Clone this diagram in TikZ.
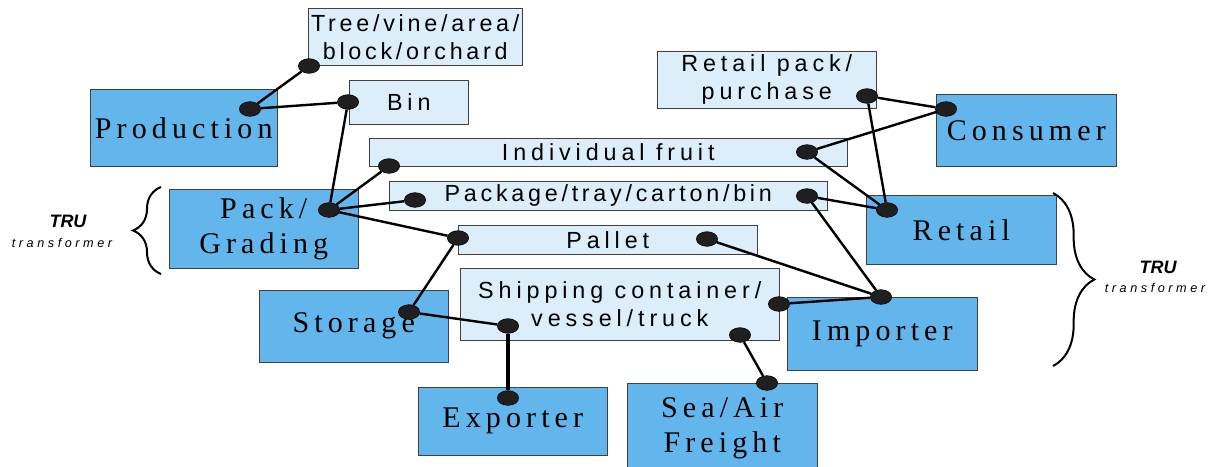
\documentclass[tikz,border=0pt]{standalone}
\usepackage{fontspec}
\setmainfont{Liberation Serif}
\setsansfont{Liberation Sans}
\newfontfamily\stagefont[LetterSpace=17]{Liberation Serif}
\newfontfamily\itemfont[LetterSpace=21]{Liberation Sans}
\newfontfamily\tightfont[LetterSpace=16]{Liberation Sans}
\newfontfamily\trufont[LetterSpace=28]{Liberation Sans}
\usetikzlibrary{shapes.geometric, decorations.pathreplacing}
\definecolor{stageblue}{RGB}{99,182,236}
\definecolor{itemblue}{RGB}{221,238,251}
\tikzstyle{link} = [line width=1.8pt, black]
\tikzstyle{bracket} = [line width=1.5pt, decorate]

\begin{document}
\begin{tikzpicture}[x=0.75pt, y=-0.75pt,
		stage/.style={
			rectangle,
			draw=black!75,
			fill=stageblue,
			anchor=north west,
			inner sep=0pt,
			align=center,
			font=\stagefont\fontsize{22.5}{26.25}\selectfont},
		item/.style={
			rectangle,
			draw=black!75,
			fill=itemblue,
			anchor=north west,
			inner sep=0pt,
			align=center,
			font=\itemfont\fontsize{17.5}{21}\selectfont},
		dot/.style={
			ellipse,
			draw=black,
			fill=black!88,
			inner sep=0pt,
			minimum width=16pt,
			minimum height=11pt}]

		\useasboundingbox (0,0) rectangle (1213,467);

		% stages
		\node (prod) [stage, minimum width=140.25pt, minimum height=57.75pt] at (90,89) {Production};
		\node (packgr) [stage, minimum width=141.75pt, minimum height=59.25pt] at (169,189) {Pack/\\Grading};
		\node (storage) [stage, minimum width=141.75pt, minimum height=54pt] at (259,290) {Storage};
		\node (exporter) [stage, minimum width=141.75pt, minimum height=51pt] at (418,387) {Exporter};
		\node (freight) [stage, minimum width=142.5pt, minimum height=67.5pt] at (627,383) {Sea/Air\\Freight};
		\node (importer) [stage, minimum width=142.5pt, minimum height=54.75pt] at (787,297) {Importer};
		\node (retail) [stage, minimum width=142.5pt, minimum height=51.75pt] at (866,195) {Retail};
		\node (consumer) [stage, minimum width=135pt, minimum height=54pt] at (936,94) {Consumer};

		% traceable units
		\node (tree) [item, minimum width=160.5pt, minimum height=42.75pt, font=\tightfont\fontsize{17.5}{21}\selectfont] at (308,8) {Tree/vine/area/\\block/orchard};
		\node (bin) [item, minimum width=89.25pt, minimum height=33pt] at (349,80) {Bin};
		\node (retpack) [item, minimum width=164.25pt, minimum height=42.75pt] at (657,51) {Retail pack/\\purchase};
		\node (fruit) [item, minimum width=358.5pt, minimum height=21pt] at (369,138) {Individual fruit};
		\node (package) [item, minimum width=328.5pt, minimum height=21.75pt, font=\tightfont\fontsize{17.5}{21}\selectfont] at (389,181) {Package/tray/carton/bin};
		\node (pallet) [item, minimum width=224.25pt, minimum height=21.75pt] at (458,225) {Pallet};
		\node (shipping) [item, minimum width=239.25pt, minimum height=54pt] at (460,268) {Shipping container/\\vessel/truck};

		% dots
		\node (dtree) [dot] at (309,66) {};
		\node (dprod) [dot] at (250,109) {};
		\node (dbin) [dot] at (348,102) {};
		\node (dpack) [dot] at (329,210) {};
		\node (dfruit) [dot] at (389,166) {};
		\node (dpkg) [dot] at (415,200) {};
		\node (dpallet) [dot] at (458,238) {};
		\node (dstore) [dot] at (409,312) {};
		\node (dship) [dot] at (508,326) {};
		\node (dexp) [dot] at (508,398) {};
		\node (dshipsea) [dot] at (740,335) {};
		\node (dsea) [dot] at (767,383) {};
		\node (dshipimp) [dot] at (779,304) {};
		\node (dimp) [dot] at (881,297) {};
		\node (dpalletimp) [dot] at (707,239) {};
		\node (dpkgimp) [dot] at (807,196) {};
		\node (dretail) [dot] at (887,210) {};
		\node (dfruitcon) [dot] at (807,152) {};
		\node (dcons) [dot] at (946,109) {};
		\node (dretpack) [dot] at (867,96) {};

		\draw[link] (dtree) -- (dprod);
		\draw[link] (dprod) -- (dbin);
		\draw[link] (dbin) -- (dpack);
		\draw[link] (dpack) -- (dfruit);
		\draw[link] (dpack) -- (dpkg);
		\draw[link] (dpack) -- (dpallet);
		\draw[link] (dpallet) -- (dstore);
		\draw[link] (dstore) -- (dship);
		\draw[link, line width=2.8pt] (dship) -- (dexp);
		\draw[link] (dshipsea) -- (dsea);
		\draw[link] (dshipimp) -- (dimp);
		\draw[link] (dpalletimp) -- (dimp);
		\draw[link] (dpkgimp) -- (dimp);
		\draw[link] (dpkgimp) -- (dretail);
		\draw[link] (dfruitcon) -- (dretail);
		\draw[link] (dfruitcon) -- (dcons);
		\draw[link] (dretpack) -- (dcons);
		\draw[link] (dretpack) -- (dretail);

		% transformer brackets
		\draw[bracket, decoration={brace, amplitude=21pt}] (161,274) -- (161,187);
		\draw[bracket, decoration={brace, amplitude=31pt}] (1053,193) -- (1053,366);
		\node (trul) at (68,221) {\sffamily\bfseries\itshape\fontsize{13.5}{16}\selectfont TRU};
		\node (tranl) at (62,243) {\trufont\itshape\fontsize{9.5}{11}\selectfont transformer};
		\node (trur) at (1158,267) {\sffamily\bfseries\itshape\fontsize{13.5}{16}\selectfont TRU};
		\node (tranr) at (1155,288) {\trufont\itshape\fontsize{9.5}{11}\selectfont transformer};
	\end{tikzpicture}
\end{document}
